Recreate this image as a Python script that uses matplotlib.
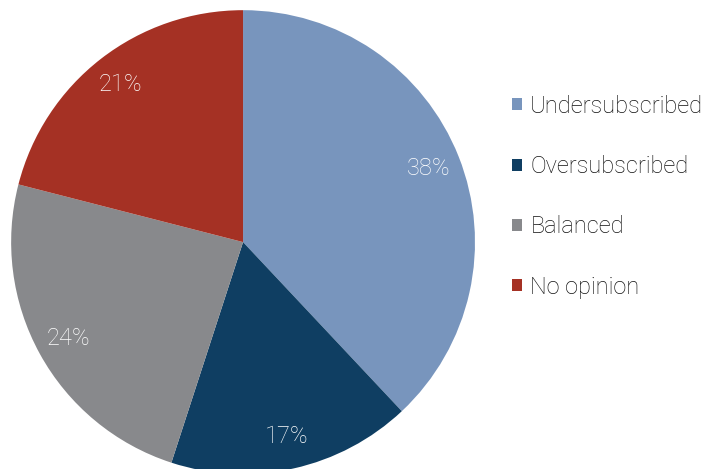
import matplotlib.pyplot as plt

labels = ['Undersubscribed', 'Oversubscribed', 'Balanced', 'No opinion']
shares = [38, 17, 24, 21]
colors = ['#7895bd', '#0f3e62', '#88898c', '#a53124']

plt.rcParams['font.family'] = ['Roboto', 'DejaVu Sans']

fig = plt.figure(figsize=(7.13, 4.69), dpi=100)
ax = fig.add_axes([0.0154, -0.0107, 0.651, 0.989])

wedges, texts, autotexts = ax.pie(shares, colors=colors, startangle=90, counterclock=False,
                                  autopct='%d%%', pctdistance=0.86, radius=1.0,
                                  wedgeprops=dict(linewidth=0),
                                  textprops=dict(color='white', fontsize=17, fontweight='light'))
ax.set_xlim(-1, 1)
ax.set_ylim(-1, 1)
ax.set_aspect('equal')
ax.axis('off')

leg = fig.legend(wedges, labels, loc='upper left', bbox_to_anchor=(0.705, 0.818),
                 frameon=False, fontsize=17, handlelength=0.42, handleheight=0.42,
                 handletextpad=0.35, labelspacing=1.58, borderaxespad=0)
for t in leg.get_texts():
    t.set_color('#111111')
    t.set_fontweight('light')

fig.savefig('out.png', dpi=100)
